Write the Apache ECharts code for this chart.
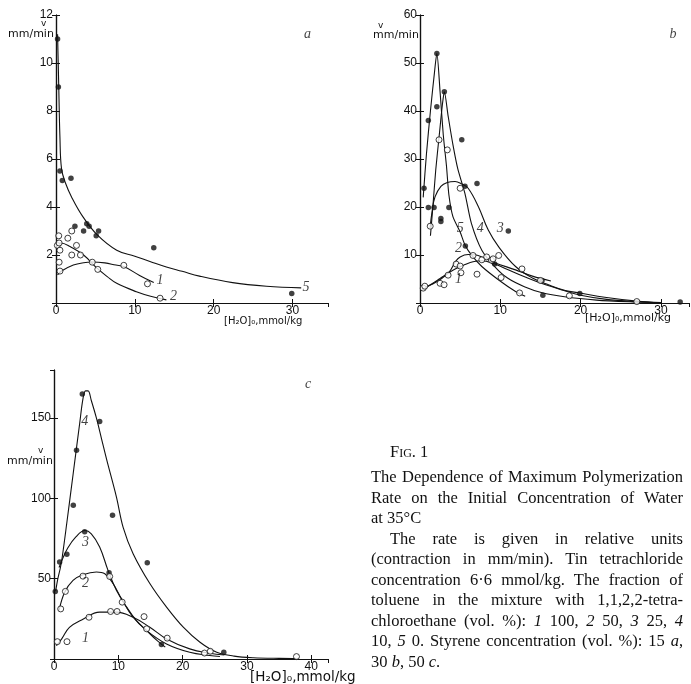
<!doctype html>
<html lang="en">
<head>
    <meta charset="UTF-8">
    <title>Fig. 1</title>
    <script src="https://cdn.jsdelivr.net/npm/echarts@6/dist/echarts.min.js"></script>
    <style>
        body {
            margin: 0;
            background-color: white;
        }

        #mainChart {
            position: absolute;
            left: 0;
            top: 0;
            width: 691px;
            height: 684px;
        }

        #caption {
            position: absolute;
            left: 371px;
            top: 442px;
            width: 312px;
            font: 16.5px "Liberation Serif", serif;
            line-height: 20.5px;
            color: #111;
        }

        #caption .ln {
            text-align: justify;
            text-align-last: justify;
            white-space: nowrap;
        }

        #caption .last {
            text-align: left;
            text-align-last: left;
        }
    </style>
</head>
<body>
<div id="mainChart"></div>
<div id="caption">
    <div style="padding-left: 19px; font-variant: small-caps;">Fig. 1</div>
    <div style="margin-top: 4.5px">
        <div class="ln">The Dependence of Maximum Polymerization</div>
        <div class="ln">Rate on the Initial Concentration of Water</div>
        <div class="ln last">at 35°C</div>
    </div>
    <div class="ln" style="padding-left: 19px">The rate is given in relative units</div>
    <div class="ln">(contraction in mm/min). Tin tetrachloride</div>
    <div class="ln">concentration 6·6 mmol/kg. The fraction of</div>
    <div class="ln">toluene in the mixture with 1,1,2,2-tetra-</div>
    <div class="ln">chloroethane (vol. %): <i>1</i> 100, <i>2</i> 50, <i>3</i> 25, <i>4</i></div>
    <div class="ln">10, <i>5</i> 0. Styrene concentration (vol. %): 15 <i>a</i>,</div>
    <div class="ln last">30 <i>b</i>, 50 <i>c</i>.</div>
</div>
<script>
    // ---- panel a (styrene 15 %) ----
    let aXRange = [0, 34.5, 10];
    let aYRange = [0, 12, 2];
    let aFilled = [[0.2, 11.0], [0.3, 9.0], [0.5, 5.5], [0.8, 5.1], [1.9, 5.2], [2.4, 3.2], [3.5, 3.0],
        [3.9, 3.3], [4.2, 3.2], [5.1, 2.8], [5.4, 3.0], [12.4, 2.3], [29.9, 0.4]];
    let aOpen = [[0.17, 2.4], [0.35, 2.8], [0.4, 2.5], [0.5, 2.2], [0.4, 1.7], [0.5, 1.33], [1.5, 2.7],
        [2.0, 3.0], [2.0, 2.0], [2.6, 2.4], [3.1, 2.0], [4.6, 1.7], [5.3, 1.4], [8.6, 1.57], [11.6, 0.8], [13.2, 0.2]];
    let aCurve5 = [[0.2, 11.2], [0.35, 9], [0.5, 6.9], [0.7, 5.6], [1.2, 5.0], [2.0, 4.4], [3.4, 3.6],
        [5.2, 2.85], [7.7, 2.2], [10, 1.95], [12, 1.72], [14, 1.5], [16, 1.32], [18.2, 1.12], [22.4, 0.85],
        [26.7, 0.7], [31.1, 0.63]];
    let aCurve1 = [[0.2, 1.17], [0.7, 1.33], [2.2, 1.58], [3.5, 1.68], [4.6, 1.71], [6.2, 1.67], [7.6, 1.58],
        [8.6, 1.52], [10.6, 1.15], [12.4, 0.85]];
    let aCurve2 = [[0.17, 2.45], [0.6, 2.5], [1.8, 2.35], [3.5, 2.0], [5.2, 1.45], [6.5, 1.1], [7.7, 0.82],
        [10.2, 0.47], [12.0, 0.28], [14.0, 0.13]];
    let aMarks = [['1', 13.2, 0.95], ['2', 14.9, 0.27], ['5', 31.7, 0.65], ['a', 31.9, 11.2]];

    // ---- panel b (styrene 30 %) ----
    let bXRange = [0, 33.5, 10];
    let bYRange = [0, 60, 10];
    let bFilled = [[0.5, 23.9], [1.04, 38], [1.04, 19.9], [1.75, 19.9], [2.1, 52], [2.1, 40.9], [2.6, 17.6],
        [2.6, 17], [3.03, 44], [3.6, 19.9], [5.2, 34], [5.6, 24.3], [5.65, 11.9], [7.1, 24.9], [9.3, 8.1],
        [11.0, 15], [15.2, 4.7], [15.3, 1.6], [19.9, 2.0], [32.4, 0.2]];
    let bOpen = [[0.4, 3.1], [0.6, 3.5], [1.27, 16], [2.37, 34], [2.5, 4.1], [3.0, 3.8], [3.4, 31.9], [3.5, 5.8],
        [4.5, 8.1], [5.0, 7.7], [5.1, 6.3], [5.0, 23.9], [6.6, 9.9], [7.1, 6.0], [7.7, 9.0], [8.3, 9.6],
        [8.9, 8.9], [9.1, 9.2], [9.8, 9.9], [10.1, 5.3], [12.4, 2.1], [12.7, 7.1], [15.0, 4.7], [18.6, 1.5], [27, 0.3]];
    let bCurve5 = [[0.4, 22], [0.8, 31], [1.3, 40], [1.8, 48], [2.1, 52], [2.5, 44], [2.9, 35], [3.3, 28.5],
        [3.6, 22.5], [4.1, 18], [5.0, 14.8], [5.6, 12.1], [6.5, 9.8], [7.7, 7.6], [9.8, 4.8], [11.9, 2.4], [13.1, 1.4]];
    let bCurve4 = [[1.3, 14], [1.6, 20], [1.96, 27.7], [2.4, 35], [2.8, 41.5], [3.03, 44], [3.5, 39], [4.1, 33],
        [4.7, 28], [5.6, 22.8], [6.4, 16.6], [7.7, 11], [9.3, 7.6], [10.9, 5.2], [13, 3.4], [15.1, 2.2],
        [18, 1.3], [22, 0.6], [26, 0.25], [30, 0.05]];
    let bCurve3 = [[1.25, 15.6], [1.5, 19], [1.87, 22.1], [2.6, 24.3], [3.4, 25.1], [4.36, 25.3], [5.2, 24.8],
        [6.0, 23.9], [7.26, 20.1], [8.5, 15.2], [9.8, 11.7], [11.9, 7.6], [14.0, 5.2], [16, 3.8], [18.1, 2.6],
        [19.9, 2.1], [23, 1.2], [27, 0.4], [30, 0.1]];
    let bCurve2 = [[0.3, 3.0], [1.5, 3.9], [2.6, 5.0], [3.7, 6.6], [4.4, 8.6], [5.0, 9.6], [6.0, 10.1], [7.0, 10],
        [7.7, 9.6], [9.3, 8.4], [11.9, 6.9], [14, 5.6], [16.3, 4.6]];
    let bCurve1 = [[0.3, 2.8], [1.5, 4], [2.5, 5.1], [3.5, 6.2], [4.5, 7.2], [5.6, 8], [6.6, 8.6], [7.7, 8.8],
        [8.9, 8.4], [10.6, 7.2], [13.1, 5.4], [15.1, 4.1], [18.1, 2.5], [20, 1.6], [23, 0.8], [27, 0.25], [30, 0.05]];
    let bMarks = [['5', 5.0, 15.6], ['4', 7.5, 15.6], ['3', 10.0, 15.6], ['2', 4.8, 11.3], ['1', 4.8, 5.0], ['b', 31.5, 56]];

    // ---- panel c (styrene 50 %) ----
    let cXRange = [0, 42.6, 10];
    let cYRange = [0, 180, 50];
    let cFilled = [[0.2, 42], [0.88, 60.4], [2.0, 65.2], [3.0, 95.8], [3.5, 130], [4.4, 165], [4.77, 79.2],
        [7.1, 148], [8.56, 53.7], [9.1, 89.6], [14.5, 60], [16.7, 9], [26.4, 4.2]];
    let cOpen = [[0.52, 10.8], [1.04, 31.2], [1.77, 42.1], [2.02, 10.8], [4.5, 51.6], [5.44, 26], [8.66, 51.4],
        [8.8, 29.6], [9.8, 29.6], [10.6, 35.4], [14.0, 26.4], [14.4, 18.8], [17.6, 13], [23.4, 3.7], [24.3, 4.8], [37.7, 1.5]];
    let cCurve4 = [[0.26, 42.3], [0.6, 50], [1.0, 57], [1.3, 64], [2.0, 85], [3.0, 116], [4.0, 147], [4.5, 162],
        [4.9, 167], [5.3, 167], [5.8, 161], [6.6, 150], [7.4, 137], [8.2, 124], [9.7, 101], [10.75, 82],
        [12.3, 65.6], [14.9, 47], [17.5, 32.3], [20.1, 19.8], [22.7, 10.4], [25.3, 4.2], [28, 1.8], [31, 0.8],
        [35, 0.4], [38, 0.3]];
    let cCurve3 = [[0.78, 57], [1.4, 63], [2.1, 68.8], [3.4, 76], [4.8, 80], [5.8, 78], [7.1, 69.8], [8.4, 55.2],
        [9.7, 42.8], [11.3, 32.3], [12.8, 24], [14.4, 17.7], [16.0, 11.6], [17.3, 7.4]];
    let cCurve2 = [[0.78, 30.2], [1.66, 41.6], [2.96, 49], [4.5, 52.5], [6.6, 54.2], [7.9, 53.1], [9.2, 46.9],
        [10.5, 37.5], [12.3, 26], [14.4, 17.7], [17.5, 9.4], [21.1, 4.2], [24.2, 2.2], [25.8, 1.6]];
    let cCurve1 = [[0.37, 8.3], [1.2, 12.5], [2.4, 19.7], [4.5, 24.8], [7.1, 29.2], [9.7, 29.2], [12.3, 26],
        [14.9, 19.8], [17.5, 12.5], [21.1, 6.3], [24.2, 3.6], [26.5, 2.5]];
    let cMarks = [['4', 4.8, 148], ['3', 4.9, 72.5], ['2', 4.9, 47], ['1', 4.9, 13], ['c', 39.5, 171]];

    let ink = '#111';
    let grids = [], xAxes = [], yAxes = [], series = [];

    function addPanel(idx, box, xr, yr, fs) {
        grids.push({left: box[0], top: box[1], width: box[2], height: box[3]});
        let line = {lineStyle: {color: ink, width: 1.2}};
        let tick = {inside: true, length: 4, lineStyle: {color: ink, width: 1}};
        let lab = {color: ink, fontSize: fs, fontFamily: 'Liberation Sans', margin: 3};
        xAxes.push({
            type: 'value', gridIndex: idx, min: xr[0], max: xr[1], interval: xr[2], position: 'bottom',
            axisLine: line, axisTick: tick, splitLine: {show: false},
            axisLabel: Object.assign({}, lab, {showMaxLabel: false, margin: 2})
        });
        xAxes.push({
            type: 'value', gridIndex: idx, min: xr[0], max: xr[1], interval: xr[2], position: 'top',
            axisLine: line, axisTick: tick, splitLine: {show: false}, axisLabel: {show: false}
        });
        yAxes.push({
            type: 'value', gridIndex: idx, min: yr[0], max: yr[1], interval: yr[2], position: 'left',
            axisLine: line, axisTick: tick, splitLine: {show: false},
            axisLabel: Object.assign({showMinLabel: false, showMaxLabel: yr[1] % yr[2] === 0}, lab)
        });
        yAxes.push({
            type: 'value', gridIndex: idx, min: yr[0], max: yr[1], interval: yr[2], position: 'right',
            axisLine: line, axisTick: tick, splitLine: {show: false}, axisLabel: {show: false}
        });
    }

    function addCurve(idx, data, smooth) {
        series.push({
            type: 'line', xAxisIndex: idx * 2, yAxisIndex: idx * 2, data: data, smooth: smooth,
            showSymbol: false, symbol: 'none', lineStyle: {color: ink, width: 1.1}, z: 2
        });
    }

    function addDots(idx, data, filled) {
        series.push({
            type: 'scatter', xAxisIndex: idx * 2, yAxisIndex: idx * 2, data: data, symbol: 'circle',
            symbolSize: filled ? 5.5 : 6,
            itemStyle: {color: filled ? ink : '#fff', borderColor: ink, borderWidth: filled ? 0 : 1},
            z: 3
        });
    }

    function addMarks(idx, data, fs) {
        series.push({
            type: 'scatter', xAxisIndex: idx * 2, yAxisIndex: idx * 2, data: data,
            encode: {x: 1, y: 2}, symbolSize: 1, itemStyle: {color: 'rgba(0,0,0,0)'},
            label: {
                show: true, position: 'inside', formatter: p => p.data[0], color: ink,
                fontSize: fs, fontStyle: 'italic', fontFamily: 'Liberation Serif'
            },
            z: 4
        });
    }

    addPanel(0, [56, 15, 272, 288], aXRange, aYRange, 12);
    addPanel(1, [420, 15, 269, 288], bXRange, bYRange, 12);
    addPanel(2, [54, 370, 274, 289], cXRange, cYRange, 12);

    addCurve(0, aCurve5, 0.4);
    addCurve(0, aCurve1, 0.4);
    addCurve(0, aCurve2, 0.4);
    addDots(0, aFilled, true);
    addDots(0, aOpen, false);
    addMarks(0, aMarks, 14);

    addCurve(1, bCurve5, 0.25);
    addCurve(1, bCurve4, 0.25);
    addCurve(1, bCurve3, 0.4);
    addCurve(1, bCurve2, 0.4);
    addCurve(1, bCurve1, 0.4);
    addDots(1, bFilled, true);
    addDots(1, bOpen, false);
    addMarks(1, bMarks, 14);

    addCurve(2, cCurve4, 0.35);
    addCurve(2, cCurve3, 0.4);
    addCurve(2, cCurve2, 0.4);
    addCurve(2, cCurve1, 0.4);
    addDots(2, cFilled, true);
    addDots(2, cOpen, false);
    addMarks(2, cMarks, 14);

    function txt(x, y, s, fs) {
        return {
            type: 'text', left: x, top: y, silent: true,
            style: {text: s, fill: ink, font: fs + 'px "DejaVu Sans", "Liberation Sans", sans-serif'}
        };
    }

    let graphics = [
        txt(41, 19, 'v', 9), txt(8, 29, 'mm/min', 11),
        txt(378, 21, 'v', 9), txt(373, 30, 'mm/min', 11),
        txt(38, 446, 'v', 9), txt(7, 456, 'mm/min', 11),
        txt(224, 316, '[H\u2082O]\u2080,mmol/kg', 10),
        txt(585, 313, '[H\u2082O]\u2080,mmol/kg', 11),
        txt(250, 670, '[H\u2082O]\u2080,mmol/kg', 13.5)
    ];

    let myChart = echarts.init(document.getElementById('mainChart'));
    let option = {
        backgroundColor: '#fff',
        animation: false,
        grid: grids,
        xAxis: xAxes,
        yAxis: yAxes,
        series: series,
        graphic: graphics
    };
    option && myChart.setOption(option);
</script>
</body>
</html>
